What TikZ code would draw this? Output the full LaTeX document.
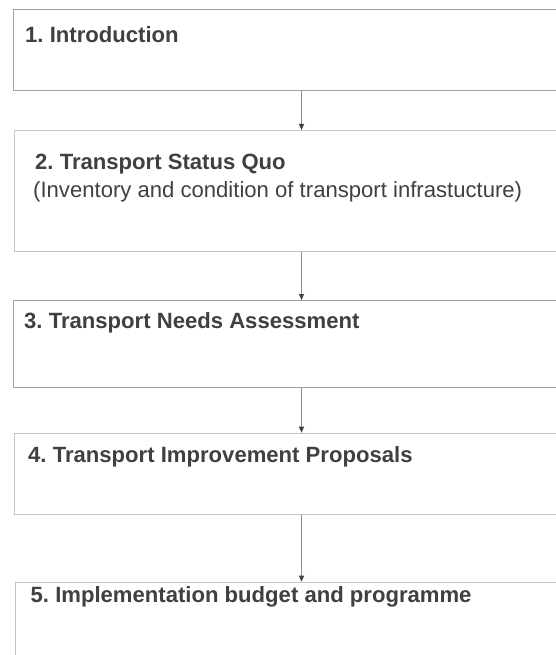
\documentclass[tikz,border=0pt]{standalone}
\usepackage{fontspec}
\setmainfont{Liberation Sans}
\usetikzlibrary{arrows.meta}

\definecolor{frameline}{HTML}{A3A3A3}
\definecolor{framelight}{HTML}{C4C4C4}
\definecolor{steptext}{HTML}{404040}
\definecolor{flowline}{HTML}{8E8E8E}

% name, frame colour, left, top, height, title x, title baseline, title
\newcommand\reportstep[8]{
        \node [stepframe=#2, minimum height=#5, name=box#1] at (#3,#4) {};
        \node [steptitle, name=title#1] at (#6,#7) {#8};
}

\begin{document}
\frenchspacing
\begin{tikzpicture}[x=1pt, y=-1pt,
        stepframe/.style={draw=#1, line width=1pt, minimum width=580pt, inner sep=0pt, anchor=north west},
        steptitle/.style={anchor=base west, inner sep=0pt, text=steptext, font=\fontsize{22.1}{26}\selectfont\bfseries},
        stepnote/.style={anchor=base west, inner sep=0pt, text=steptext, font=\fontsize{22.1}{26}\selectfont},
        connector/.style={draw=flowline, line width=1pt, -{Triangle[length=6pt, width=5pt, color=steptext]}}
        ]
        \clip (0,0) rectangle (556,655);
        \fill [white] (0,0) rectangle (556,655);
        \reportstep{1}{frameline}{13.3}{9.3}{80.7pt}{25}{42.7}{1. Introduction}
        \reportstep{2}{framelight}{14}{130}{121pt}{35}{170}{2. Transport Status Quo}
        \node [stepnote, name=note2] at (33,197) {(Inventory and condition of transport infrastucture)};
        \reportstep{3}{frameline}{13.3}{300}{86.7pt}{24}{328.7}{3. Transport Needs Assessment}
        \reportstep{4}{framelight}{14}{432.7}{81.3pt}{28}{462}{4. Transport Improvement Proposals}
        \reportstep{5}{framelight}{15.3}{581.7}{100pt}{30.5}{602.7}{5. Implementation budget and programme}
        % arrows down the left third
        \coordinate (axis) at (301.5,0);
        \draw [connector] (box1.south -| axis) -- (box2.north -| axis);
        \draw [connector] (box2.south -| axis) -- (box3.north -| axis);
        \draw [connector] (box3.south -| axis) -- (box4.north -| axis);
        \draw [connector] (box4.south -| axis) -- (box5.north -| axis);
\end{tikzpicture}
\end{document}
